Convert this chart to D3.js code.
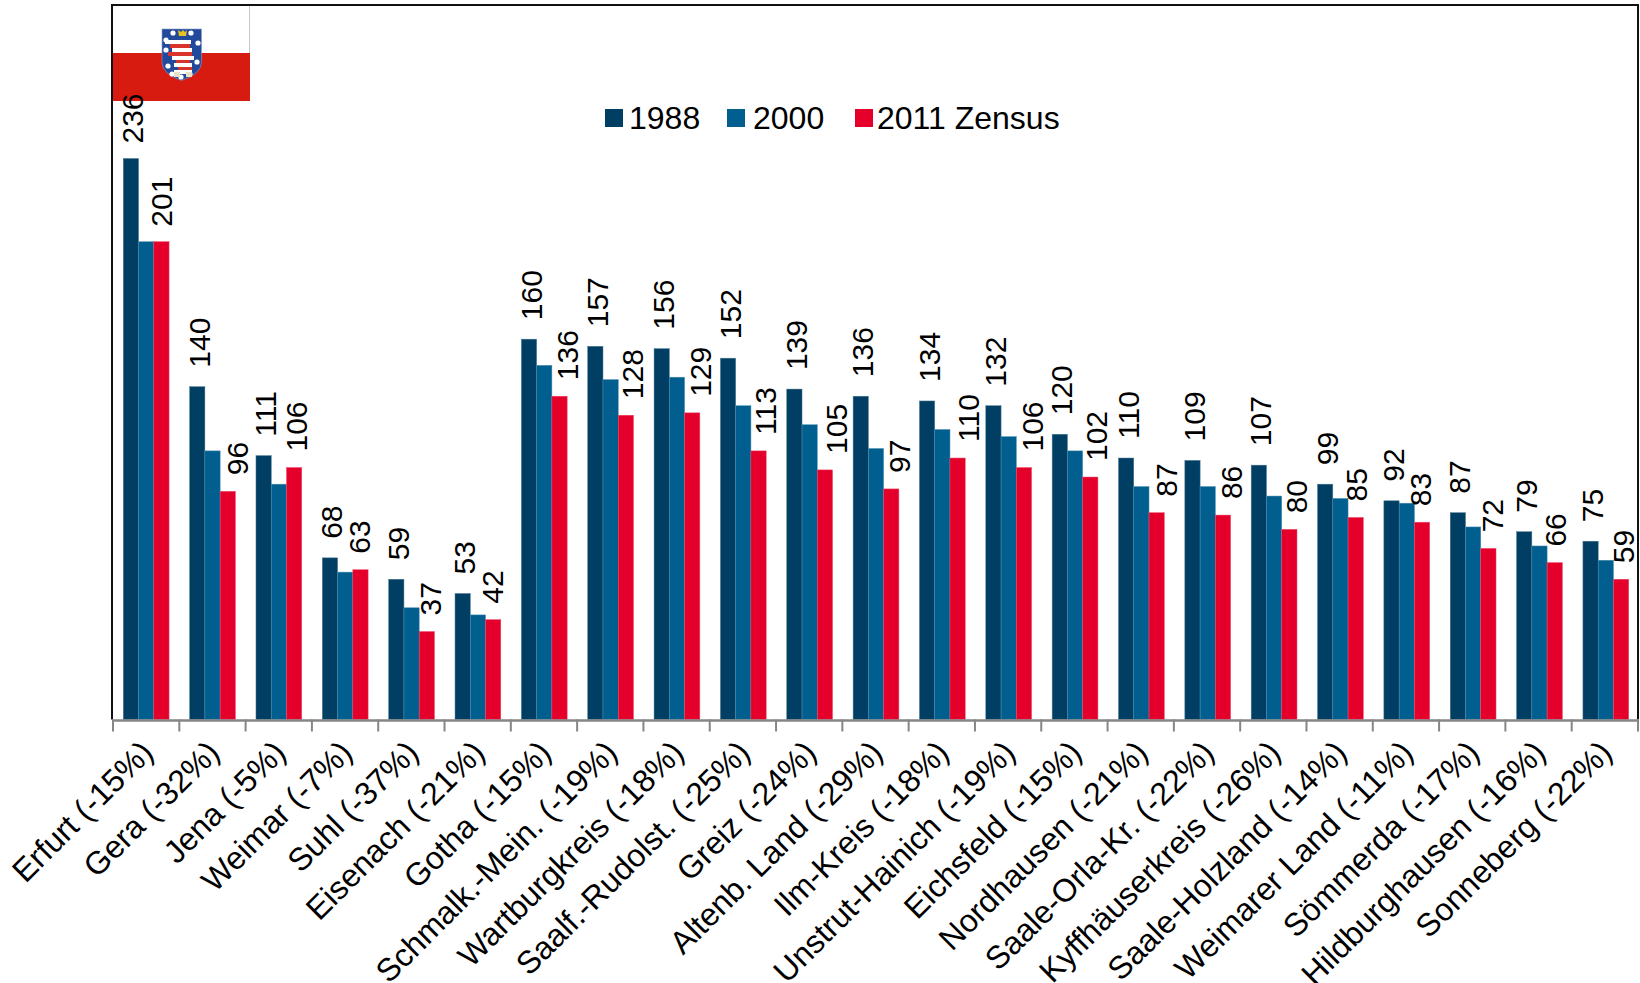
<!DOCTYPE html>
<html><head><meta charset="utf-8">
<script src="https://cdnjs.cloudflare.com/ajax/libs/d3/7.8.5/d3.min.js"></script>
<style>html,body{margin:0;padding:0;background:#fff;overflow:hidden}svg{display:block;font-family:"Liberation Sans",Arial,sans-serif}</style>
</head><body><svg id="c" width="1640" height="983"></svg>
<script>
const regions=["Erfurt","Gera","Jena","Weimar","Suhl","Eisenach","Gotha","Schmalk.-Mein.","Wartburgkreis","Saalf.-Rudolst.","Greiz","Altenb. Land","Ilm-Kreis","Unstrut-Hainich","Eichsfeld","Nordhausen","Saale-Orla-Kr.","Kyffhäuserkreis","Saale-Holzland","Weimarer Land","Sömmerda","Hildburghausen","Sonneberg"];
const changes=[-15,-32,-5,-7,-37,-21,-15,-19,-18,-25,-24,-29,-18,-19,-15,-21,-22,-26,-14,-11,-17,-16,-22];
const v1988=[236,140,111,68,59,53,160,157,156,152,139,136,134,132,120,110,109,107,99,92,87,79,75];
const v2000=[201,113,99,62,47,44,149,143,144,132,124,114,122,119,113,98,98,94,93,91,81,73,67];
const v2011=[201,96,106,63,37,42,136,128,129,113,105,97,110,106,102,87,86,80,85,83,72,66,59];
const seriesNames=["1988","2000","2011 Zensus"];
const seriesColors=["#003F63","#005F8F","#E4002B"];
const seriesValues=[v1988,v2000,v2011];
// horizontal nudge of the 2011 value labels, as hand-placed in the original
const nudge2011=[-1,8,.5,-2,2,-2,6,5,7,5,10,7,9,7,5,8,7,6,-1,-3,3,-1,1];

const svg=d3.select("#c");
const L=113,R=1638,B=719.5,T=5;
const x=d3.scaleBand().domain(d3.range(regions.length)).range([L,R+1]).paddingInner(.31).paddingOuter(.155);
const xs=d3.scaleBand().domain(d3.range(3)).range([0,x.bandwidth()]);
const y=d3.scaleLinear().domain([0,236]).range([B,158.5]);

// flag with coat of arms
const f=svg.append("g");
f.append("rect").attr("x",113).attr("y",6).attr("width",136).attr("height",47).attr("fill","#fff");
f.append("line").attr("x1",249.5).attr("x2",249.5).attr("y1",6).attr("y2",53).attr("stroke","#c8c8c8");
f.append("rect").attr("x",113).attr("y",53).attr("width",137).attr("height",48).attr("fill","#D71B10");
f.append("path").attr("d","M162 29H201.5V62Q201.5 74 181.5 80.5Q162 74 162 62Z").attr("fill","#234A9A").attr("stroke","#8b9bc8").attr("stroke-width",.6);
[[173,33],[191,33],[198,43],[166,50],[197,62],[168,66],[181,77],[190,74],[172,74],[166,40]].forEach(p=>f.append("circle").attr("cx",p[0]).attr("cy",p[1]).attr("r",2.6).attr("fill","#fff"));
f.append("path").attr("d","M179 36L178 30L181 32L183 30L185 32L187 30L186 36Z").attr("fill","#E8C020");
[[165,40,26,"#fff"],[170,44,20,"#D9342B"],[172,48,20,"#fff"],[168,52,24,"#D9342B"],[172,56,22,"#fff"],[176,60,14,"#D9342B"],[174,63,18,"#fff"],[178,67,14,"#D9342B"],[174,70,18,"#fff"]].forEach(b=>f.append("rect").attr("x",b[0]).attr("y",b[1]).attr("width",b[2]).attr("height",4).attr("fill",b[3]));
f.append("rect").attr("x",174).attr("y",72).attr("width",6).attr("height",5).attr("fill","#e8e0c8");
f.append("rect").attr("x",186).attr("y",72).attr("width",6).attr("height",5).attr("fill","#e8e0c8");

// bars
seriesValues.forEach((vals,s)=>{
  const g=svg.append("g");
  g.selectAll("rect").data(vals).join("rect")
   .attr("x",(d,i)=>x(i)+xs(s)).attr("width",xs.bandwidth())
   .attr("y",d=>y(d)).attr("height",d=>y(0)-y(d))
   .attr("fill",seriesColors[s]).attr("stroke",d3.interpolateRgb(seriesColors[s],"#fff")(.3)).attr("stroke-width",.5);
});
// value labels
function labels(vals,s,dx,dyf){
  svg.append("g").selectAll("text").data(vals).join("text")
   .attr("transform",(d,i)=>`translate(${x(i)+xs(s)+xs.bandwidth()/2+dx(i)},${y(d)-dyf(i)}) rotate(-90)`)
   .attr("font-size",30).attr("fill","#000").text(d=>d);
}
labels(v1988,0,i=>12.5,i=>i===0?15:19);
labels(v2011,2,i=>12+nudge2011[i],i=>i===0?15:16);

// frame
svg.append("path").attr("d",`M${L-1} ${B}V${T}H${R}V${B}`).attr("fill","none").attr("stroke","#111").attr("stroke-width",2);

// axis
const edge=d3.scaleLinear().domain([0,regions.length]).range([L,R]);
svg.append("line").attr("x1",L-1).attr("x2",R).attr("y1",B+1).attr("y2",B+1).attr("stroke","#868686").attr("stroke-width",2.5);
svg.append("g").selectAll("line").data(d3.range(regions.length+1)).join("line")
 .attr("x1",d=>edge(d)).attr("x2",d=>edge(d)).attr("y1",B).attr("y2",B+12).attr("stroke","#868686").attr("stroke-width",2);
svg.append("g").selectAll("text").data(regions).join("text")
 .attr("transform",(d,i)=>`translate(${edge(i)+42},${B+35}) rotate(-45)`)
 .attr("text-anchor","end").attr("font-size",32).attr("fill","#000")
 .text((d,i)=>`${d} (${changes[i]}%)`);

// legend
const legendX=[605,727,855];
const lg=svg.append("g").selectAll("g").data(seriesNames).join("g").attr("transform",(d,i)=>`translate(${legendX[i]},109)`);
lg.append("rect").attr("width",18).attr("height",18).attr("fill",(d,i)=>seriesColors[i]);
lg.append("text").attr("x",(d,i)=>[24,26,22][i]).attr("y",20).attr("font-size",32).attr("fill","#000").text(d=>d);
</script></body></html>
